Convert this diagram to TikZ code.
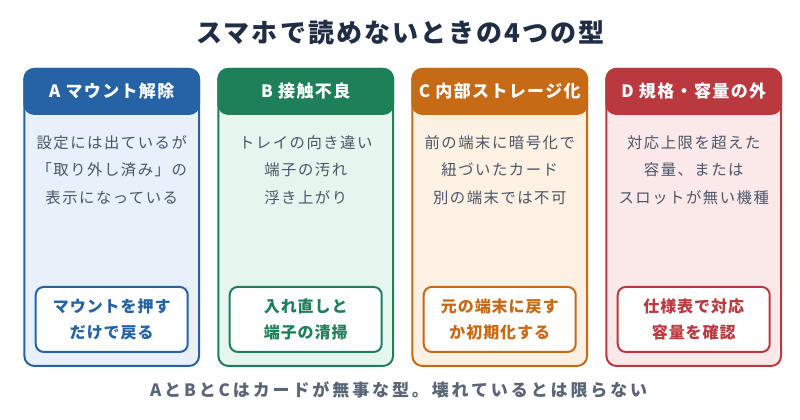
\documentclass[tikz,border=0pt]{standalone}
\usepackage{fontspec}
\usepackage{xcolor}
\usepackage{tikz}
\usetikzlibrary{positioning}
\setmainfont{Noto Sans CJK JP}
\newfontfamily\titlefont[LetterSpace=8]{Noto Sans CJK JP}
\newfontfamily\headfont[LetterSpace=8]{Noto Sans CJK JP}
\newfontfamily\bodyfont[LetterSpace=10]{Noto Sans CJK JP}
\newfontfamily\fixfont[LetterSpace=6]{Noto Sans CJK JP}
\newfontfamily\notefont[LetterSpace=17]{Noto Sans CJK JP}
\definecolor{TitleNavy}{HTML}{1F2D45}
\definecolor{BodyGray}{HTML}{4A5568}
\definecolor{NoteGray}{HTML}{5A6577}
\definecolor{MountBlue}{HTML}{2563A6}
\definecolor{MountBlueBg}{HTML}{E8F0FA}
\definecolor{ContactGreen}{HTML}{1E8059}
\definecolor{ContactGreenBg}{HTML}{E6F6EE}
\definecolor{StorageOrange}{HTML}{C66A16}
\definecolor{StorageOrangeBg}{HTML}{FDF1E3}
\definecolor{SpecRed}{HTML}{B9393E}
\definecolor{SpecRedBg}{HTML}{FBE9EA}

\begin{document}
\begin{tikzpicture}[
            node distance=0pt and 13pt,
            card/.style={draw=#1, fill=#1Bg, line width=1.5pt, rounded corners=7.5pt, minimum width=131pt, minimum height=222.75pt},
            head/.style={draw=#1, fill=#1, line width=1.5pt, rounded corners=7.5pt, minimum width=131pt, minimum height=33.75pt, text=white, font=\headfont\fontsize{12.75pt}{15pt}\selectfont\bfseries},
            body/.style={text=BodyGray, align=center, text width=130pt, font=\bodyfont\fontsize{11.5pt}{20.5pt}\selectfont},
            fix/.style={draw=#1, fill=white, text=#1, line width=1.5pt, rounded corners=6pt, minimum width=114pt, minimum height=48.75pt, align=center, font=\fixfont\fontsize{12pt}{19.5pt}\selectfont\bfseries}
        ]
            \useasboundingbox (0,0) rectangle (600pt,-315pt);

            \node[text=TitleNavy, font=\titlefont\fontsize{19.5pt}{23pt}\selectfont\bfseries] (title) at (300.5pt,-24.75pt) {スマホで読めないときの4つの型};

            \node[card=MountBlue] (cardA) at (83.8pt,-163.1pt) {};
            \node[card=ContactGreen, right=of cardA] (cardB) {};
            \node[card=StorageOrange, right=of cardB] (cardC) {};
            \node[card=SpecRed, right=of cardC] (cardD) {};

            \node[head=MountBlue, below=0pt of cardA.north] (headA) {A マウント解除};
            \node[body, below=12pt of headA] (bodyA) {設定には出ているが\\「取り外し済み」の\\表示になっている};
            \node[fix=MountBlue, above=10.5pt of cardA.south] (fixA) {マウントを押す\\だけで戻る};

            \node[head=ContactGreen, below=0pt of cardB.north] (headB) {B 接触不良};
            \node[body, below=12pt of headB] (bodyB) {トレイの向き違い\\端子の汚れ\\浮き上がり};
            \node[fix=ContactGreen, above=10.5pt of cardB.south] (fixB) {入れ直しと\\端子の清掃};

            \node[head=StorageOrange, below=0pt of cardC.north] (headC) {C 内部ストレージ化};
            \node[body, below=12pt of headC] (bodyC) {前の端末に暗号化で\\紐づいたカード\\別の端末では不可};
            \node[fix=StorageOrange, above=10.5pt of cardC.south] (fixC) {元の端末に戻す\\か初期化する};

            \node[head=SpecRed, below=0pt of cardD.north] (headD) {D 規格・容量の外};
            \node[body, below=12pt of headD] (bodyD) {対応上限を超えた\\容量、または\\スロットが無い機種};
            \node[fix=SpecRed, above=10.5pt of cardD.south] (fixD) {仕様表で対応\\容量を確認};

            \node[text=NoteGray, font=\notefont\fontsize{12.75pt}{15pt}\selectfont\bfseries] (note) at (299pt,-292.5pt) {AとBとCはカードが無事な型。壊れているとは限らない};

        \end{tikzpicture}
\end{document}
